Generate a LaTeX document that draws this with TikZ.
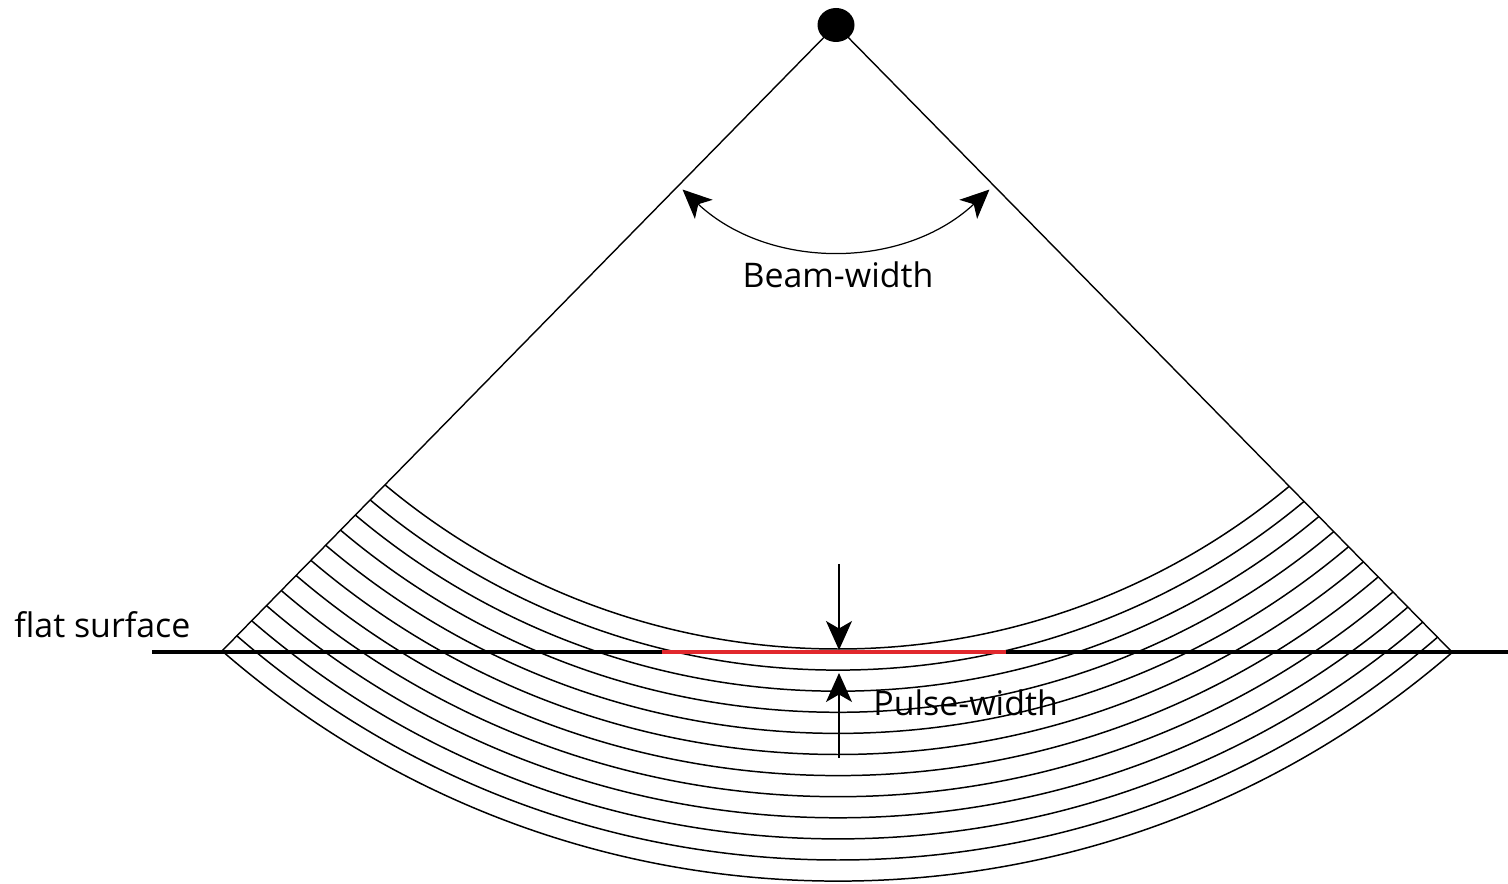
\documentclass[tikz,border=0pt]{standalone}
\usepackage{fontspec}
\setmainfont{Open Sans}
\usepackage{xcolor}
\usepackage{tikz}
\usetikzlibrary{arrows.meta, calc, positioning, shapes.geometric}
\definecolor{hitred}{RGB}{225, 40, 45}

\begin{document}
\begin{tikzpicture}[x=0.02cm, y=0.02cm, >={Stealth[length=5.8mm, width=5.2mm, inset=1.5mm]},
    beam/.style={line width=0.8pt, black},
    ring/.style={line width=0.85pt, black},
    surface/.style={line width=1.9pt, black},
    footprint/.style={line width=2pt, hitred},
    dim/.style={line width=0.7pt, ->},
    txt/.style={font=\fontsize{19.3}{22}\selectfont, inner sep=0pt}]

    \useasboundingbox (0,0) rectangle (1508,883);

    % Geometry
    \coordinate (apex) at (836,858);
    \coordinate (lend) at (221,231);
    \coordinate (rend) at (1452,231);
    \coordinate (ctr) at (838,941);

    % Pulse rings
    \begin{scope}
      \clip (apex) -- ($(apex)!1.8!(lend)$) -- ($(apex)!1.8!(rend)$) -- cycle;
      \foreach \k in {0,...,11}
        \draw[ring] (ctr) circle[radius=707+21.1*\k];
    \end{scope}

    % Beam edges
    \draw[beam] (apex) -- (lend);
    \draw[beam] (apex) -- (rend);
    \node[ellipse, fill=black, inner sep=0pt, minimum width=0.74cm, minimum height=0.68cm] (sonar) at (apex) {};

    % Flat surface
    \coordinate (sleft) at (152,231);
    \coordinate (sright) at (1508,231);
    \draw[surface] (sleft) -- (sright);
    \coordinate (fleft) at (662,231);
    \coordinate (fright) at (1006,231);
    \draw[footprint] (fleft) -- (fright);

    % Pulse-width arrows
    \coordinate (ptop) at (839,319);
    \coordinate (phit) at (839,233);
    \coordinate (pbot) at (839,125);
    \coordinate (pring) at (839,210);
    \draw[dim] (ptop) -- (phit);
    \draw[dim] (pbot) -- (pring);

    % Beam-width arc
    \draw[dim, <->] ($(apex)+(227:225)$) arc[start angle=227, end angle=313, radius=225];

    % Labels
    \node[txt, anchor=base] (beamlabel) at (838,595) {Beam-width};
    \node[txt, anchor=base west] (pulselabel) at (873,168) {Pulse-width};
    \node[txt, anchor=base west] (surfacelabel) at (14,245) {flat surface};
\end{tikzpicture}
\end{document}
